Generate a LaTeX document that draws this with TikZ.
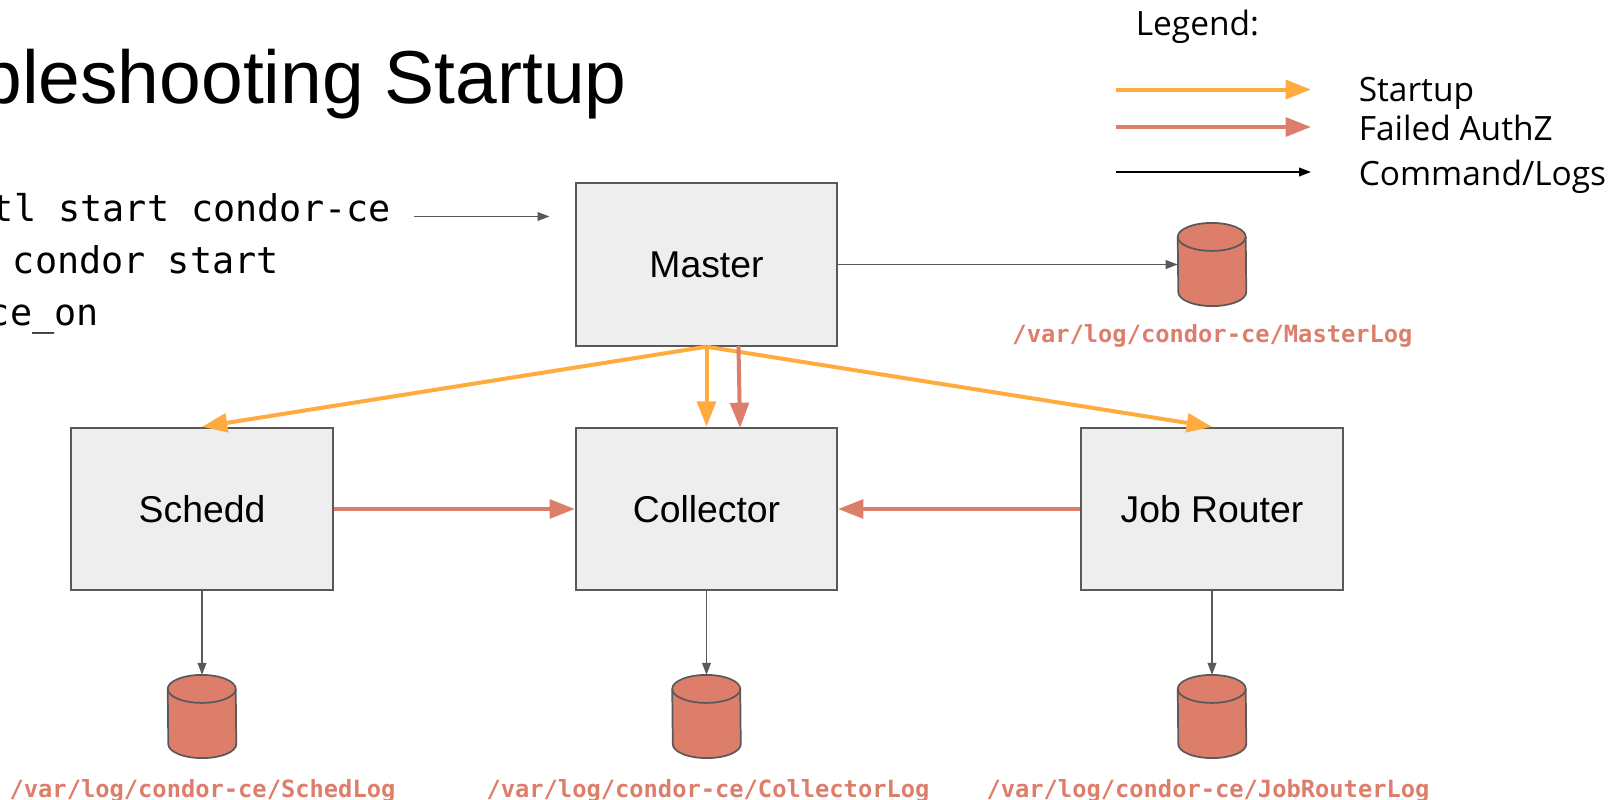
\documentclass[tikz,border=0pt]{standalone}
\usepackage{fontspec}
\setmainfont{Liberation Sans}
\newfontfamily\legendfont{Open Sans}
\newfontfamily\monofont{DejaVu Sans Mono}
\newfontfamily\monobold{DejaVu Sans Mono Bold}
\usetikzlibrary{arrows.meta}
\definecolor{startc}{HTML}{FFAB40}
\definecolor{failc}{HTML}{DD7E6B}
\definecolor{linec}{HTML}{595959}
\definecolor{boxc}{HTML}{EEEEEE}
\tikzset{
  x=0.75pt,y=-0.75pt,
  procbox/.style={draw=linec,fill=boxc,line width=1.3pt,rectangle,minimum width=196pt,minimum height=122pt,inner sep=0pt,font=\fontsize{28pt}{30pt}\selectfont},
  logdb/.style={rectangle,minimum width=51pt,minimum height=62pt,inner sep=0pt},
  drumline/.style={draw=linec,fill=failc,line width=1.3pt},
  startarrow/.style={draw=startc,line width=3pt,-{Triangle[length=19pt,width=14pt]}},
  failarrow/.style={draw=failc,line width=3pt,-{Triangle[length=19pt,width=14pt]}},
  cmdarrow/.style={draw=linec,line width=1.3pt,-{Triangle[length=9pt,width=6.5pt]}},
  legcmd/.style={draw=black,line width=1.3pt,-{Triangle[length=9pt,width=6.5pt]}},
  logtext/.style={text=failc,anchor=base,font=\monobold\fontsize{17.8pt}{20pt}\selectfont,inner sep=0pt},
  cmdtext/.style={anchor=base east,font=\monofont\fontsize{27.6pt}{30pt}\selectfont,inner sep=0pt},
  legtext/.style={anchor=base west,font=\legendfont\fontsize{25.1pt}{28pt}\selectfont,inner sep=0pt},
}
\newcommand{\logdrum}[1]{%
  \draw[drumline] ([yshift=-10.5pt]#1.north west) arc[start angle=180,end angle=0,x radius=25.5pt,y radius=10.5pt]
    -- ([yshift=10.5pt]#1.south east) arc[start angle=0,end angle=-180,x radius=25.5pt,y radius=10.5pt] -- cycle;
  \draw[draw=linec,line width=1.3pt] ([yshift=-10.5pt]#1.north west) arc[start angle=180,end angle=360,x radius=25.5pt,y radius=10.5pt];
}
\begin{document}
\begin{tikzpicture}
\useasboundingbox (0,0) rectangle (1611,800);
\node[anchor=base east,inner sep=0pt,font=\fontsize{56.25pt}{60pt}\selectfont] (title) at (627,103) {bleshooting Startup};
\node[cmdtext] (cmda) at (391,221) {tl start condor-ce};
\node[cmdtext] (cmdb) at (279,273) {condor start};
\node[cmdtext] (cmdc) at (99,325) {ce\_on};
\node[procbox] (master) at (706.5,264.5) {Master};
\node[procbox] (schedd) at (202,509) {Schedd};
\node[procbox] (collector) at (706.5,509) {Collector};
\node[procbox] (router) at (1212,509) {Job Router};
\node[logdb] (masterdb) at (1212,264.5) {};
\node[logdb] (scheddb) at (202,716.5) {};
\node[logdb] (colldb) at (706.5,716.5) {};
\node[logdb] (routerdb) at (1212,716.5) {};
\logdrum{masterdb}
\logdrum{scheddb}
\logdrum{colldb}
\logdrum{routerdb}
\node[logtext] (masterlog) at (1212.5,342) {/var/log/condor-ce/MasterLog};
\node[logtext] (schedlog) at (202.5,797) {/var/log/condor-ce/SchedLog};
\node[logtext] (colllog) at (708,797) {/var/log/condor-ce/CollectorLog};
\node[logtext] (routerlog) at (1208,797) {/var/log/condor-ce/JobRouterLog};
\coordinate (cmdfrom) at (414,216.5);
\coordinate (cmdto) at (549.5,216.5);
\draw[cmdarrow] (cmdfrom) -- (cmdto);
\draw[cmdarrow] (master.east) -- (masterdb.west);
\draw[cmdarrow] (schedd.south) -- (scheddb.north);
\draw[cmdarrow] (collector.south) -- (colldb.north);
\draw[cmdarrow] (router.south) -- (routerdb.north);
\draw[startarrow] (master.south) -- (schedd.north);
\draw[startarrow] (master.south) -- (collector.north);
\draw[startarrow] (master.south) -- (router.north);
\coordinate (failfrom) at (738.5,346);
\coordinate (failto) at (740,428);
\draw[failarrow] (failfrom) -- (failto);
\draw[failarrow] (schedd.east) -- (collector.west);
\draw[failarrow] (router.west) -- (collector.east);
% legend
\node[legtext] (legend) at (1135.5,35) {Legend:};
\node[legtext] (legstart) at (1358.5,101.7) {Startup};
\node[legtext] (legfail) at (1358.5,140) {Failed AuthZ};
\node[legtext] (legcmdt) at (1358.5,185) {Command/Logs};
\coordinate (la) at (1116,89.5); \coordinate (lb) at (1311,89.5);
\coordinate (lc) at (1116,127); \coordinate (ld) at (1311,127);
\coordinate (le) at (1116,172); \coordinate (lf) at (1311,172);
\draw[startarrow] (la) -- (lb);
\draw[failarrow] (lc) -- (ld);
\draw[legcmd] (le) -- (lf);
\end{tikzpicture}
\end{document}
